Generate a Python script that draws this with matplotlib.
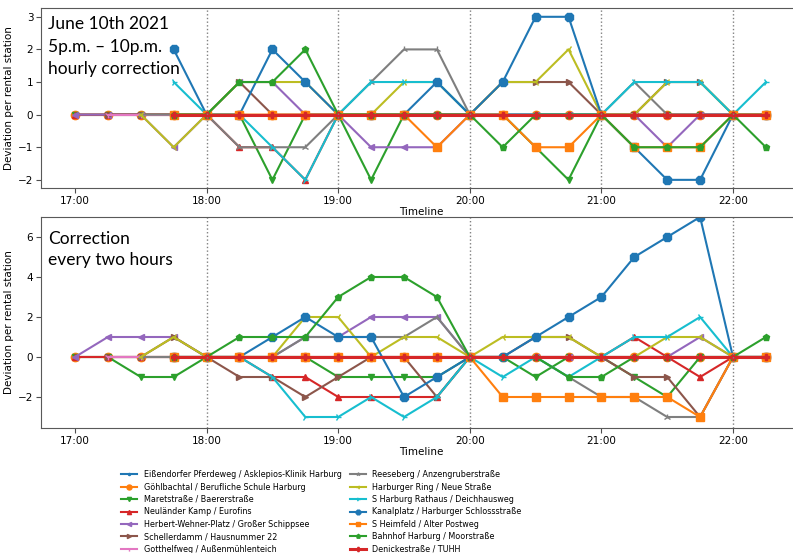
import matplotlib
matplotlib.use("Agg")
import matplotlib.dates as mdates
import matplotlib.pyplot as plt
import numpy as np
import pandas as pd

nan = np.nan

# 15-minute steps, 17:00 .. 22:15
times = pd.date_range("2021-06-10 17:00", "2021-06-10 22:15", freq="15min")

stations = [
    "Eißendorfer Pferdeweg / Asklepios-Klinik Harburg",
    "Göhlbachtal / Berufliche Schule Harburg",
    "Maretstraße / Baererstraße",
    "Neuländer Kamp / Eurofins",
    "Herbert-Wehner-Platz / Großer Schippsee",
    "Schellerdamm / Hausnummer 22",
    "Gotthelfweg / Außenmühlenteich",
    "Reeseberg / Anzengruberstraße",
    "Harburger Ring / Neue Straße",
    "S Harburg Rathaus / Deichhausweg",
    "Kanalplatz / Harburger Schlossstraße",
    "S Heimfeld / Alter Postweg",
    "Bahnhof Harburg / Moorstraße",
    "Denickestraße / TUHH",
]
markers = [".", "o", "v", "^", "<", ">", "1", "2", "3", "4", "8", "s", "p", "P"]

# --- hourly correction ---
eissendorfer_h = [0, 0, 0, 0, 0, 0, 0, 0, 0, 0, 0, 0, 0, 0, 0, 0, 0, 0, 0, 0, 0, 0]
goehlbachtal_h = [0, 0, 0, 0, 0, 0, 0, 0, 0, 0, 0, 0, 0, 0, 0, 0, 0, 0, 0, 0, 0, 0]
maret_h = [0, 0, 0, 0, 0, 0, -2, 0, 0, -2, 0, 0, 0, 0, -1, -2, 0, 0, 0, 0, 0, 0]
neulaender_h = [0, 0, 0, 0, 0, -1, -1, -2, 0, 0, 0, 0, 0, 0, 0, 0, 0, 0, 0, 0, 0, 0]
herbert_h = [0, 0, 0, -1, 0, 1, 1, 0, 0, -1, -1, -1, 0, 0, 0, 0, 0, 0, -1, 0, 0, 0]
schellerdamm_h = [nan, 0, 0, 0, 0, 1, 0, 0, 0, 0, 0, 0, 0, 1, 1, 1, 0, 0, 1, 1, 0, 0]
gotthelf_h = [nan, 0, 0, 0, 0, 0, 0, 0, 0, 0, 0, 0, 0, 0, 0, 0, 0, 0, 0, 0, 0, 0]
reeseberg_h = [nan, nan, 0, 0, 0, -1, -1, -1, 0, 1, 2, 2, 0, 0, 0, 0, 0, 1, 0, 0, 0, 0]
harburger_ring_h = [nan, nan, 0, -1, 0, 1, 1, 1, 0, 0, 1, 1, 0, 1, 1, 2, 0, 0, 1, 1, 0, 0]
rathaus_h = [nan, nan, nan, 1, 0, 0, -1, -2, 0, 1, 1, 1, 0, 0, 0, 0, 0, 1, 1, 1, 0, 1]
kanalplatz_h = [nan, nan, nan, 2, 0, 0, 2, 1, 0, 0, 0, 1, 0, 1, 3, 3, 0, -1, -2, -2, 0, 0]
heimfeld_h = [nan, nan, nan, 0, 0, 0, 0, 0, 0, 0, 0, -1, 0, 0, -1, -1, 0, -1, -1, -1, 0, 0]
bahnhof_h = [nan, nan, nan, 0, 0, 1, 1, 2, 0, 0, 0, 0, 0, -1, 0, 0, 0, -1, -1, -1, 0, -1]
denicke_h = [nan, nan, nan, 0, 0, 0, 0, 0, 0, 0, 0, 0, 0, 0, 0, 0, 0, 0, 0, 0, 0, 0]

# --- correction every two hours ---
eissendorfer_2 = [0, 0, 0, 0, 0, 0, 0, 0, 0, 0, 0, 0, 0, 0, 0, 0, 0, 0, 0, 0, 0, 0]
goehlbachtal_2 = [0, 0, 0, 0, 0, 0, 0, 0, 0, 0, 0, 0, 0, 0, 0, 0, 0, 0, 0, 0, 0, 0]
maret_2 = [0, 0, -1, -1, 0, 0, 0, 0, -1, -1, -1, -1, 0, 0, -1, 0, 0, -1, -2, 0, 0, 0]
neulaender_2 = [0, 0, 0, 0, 0, 0, -1, -1, -2, -2, -2, -2, 0, 0, 0, 0, 0, 1, 0, -1, 0, 0]
herbert_2 = [0, 1, 1, 1, 0, 0, 0, 1, 1, 2, 2, 2, 0, 0, 0, 0, 0, 0, 0, 1, 0, 0]
schellerdamm_2 = [nan, 0, 0, 1, 0, -1, -1, -2, -1, 0, 0, -2, 0, 0, 1, 1, 0, -1, -1, -3, 0, 0]
gotthelf_2 = [nan, 0, 0, 0, 0, 0, 0, 0, 0, 0, 0, 0, 0, 0, 0, 0, 0, 0, 0, 0, 0, 0]
reeseberg_2 = [nan, nan, 0, 0, 0, 0, 0, 1, 1, 1, 1, 2, 0, 0, 0, -1, -2, -2, -3, -3, 0, 0]
harburger_ring_2 = [nan, nan, 0, 1, 0, 0, 0, 2, 2, 0, 1, 1, 0, 1, 1, 1, 0, 0, 1, 1, 0, 0]
rathaus_2 = [nan, nan, nan, 0, 0, 0, -1, -3, -3, -2, -3, -2, 0, -1, 0, -1, 0, 1, 1, 2, 0, 0]
kanalplatz_2 = [nan, nan, nan, 0, 0, 0, 1, 2, 1, 1, -2, -1, 0, 0, 1, 2, 3, 5, 6, 7, 0, 0]
heimfeld_2 = [nan, nan, nan, 0, 0, 0, 0, 0, 0, 0, 0, 0, 0, -2, -2, -2, -2, -2, -2, -3, 0, 0]
bahnhof_2 = [nan, nan, nan, 0, 0, 1, 1, 1, 3, 4, 4, 3, 0, 0, 0, -1, -1, 0, 0, 0, 0, 1]
denicke_2 = [nan, nan, nan, 0, 0, 0, 0, 0, 0, 0, 0, 0, 0, 0, 0, 0, 0, 0, 0, 0, 0, 0]

hourly = [eissendorfer_h, goehlbachtal_h, maret_h, neulaender_h, herbert_h,
          schellerdamm_h, gotthelf_h, reeseberg_h, harburger_ring_h, rathaus_h,
          kanalplatz_h, heimfeld_h, bahnhof_h, denicke_h]
two_hourly = [eissendorfer_2, goehlbachtal_2, maret_2, neulaender_2, herbert_2,
              schellerdamm_2, gotthelf_2, reeseberg_2, harburger_ring_2, rathaus_2,
              kanalplatz_2, heimfeld_2, bahnhof_2, denicke_2]

colors = plt.rcParams["axes.prop_cycle"].by_key()["color"]

W, H = 793, 553
fig = plt.figure(figsize=(W / 100, H / 100), dpi=100)


def px_axes(left, top, right, bottom):
    return fig.add_axes([left / W, 1 - bottom / H, (right - left) / W, (bottom - top) / H])


ax1 = px_axes(41, 8, 801, 188)
ax2 = px_axes(41, 217, 801, 428)


def draw(ax, series, corrections):
    for i, (name, vals) in enumerate(zip(stations, series)):
        ms = 6 if markers[i] in ("o", "8", "s") else 5
        lw = 2.2 if i == len(stations) - 1 else 1.5
        ax.plot(times, vals, marker=markers[i], color=colors[i % 10],
                label=name, linewidth=lw, markersize=ms)
    for t in corrections:
        ax.axvline(pd.Timestamp(t), color="gray", linestyle=":", linewidth=1)
    ax.set_xlim(pd.Timestamp("2021-06-10 16:44:30"), pd.Timestamp("2021-06-10 22:31:00"))
    ax.xaxis.set_major_locator(mdates.HourLocator())
    ax.xaxis.set_major_formatter(mdates.DateFormatter("%H:%M"))
    ax.set_xlabel("Timeline", fontsize=7.5, labelpad=1)
    ax.set_ylabel("Deviation per rental station", fontsize=7.5)
    ax.yaxis.set_label_coords(-0.036, 0.5)
    ax.tick_params(labelsize=7.5, length=3.5, pad=2, color="0.3")
    for s in ax.spines.values():
        s.set_color("0.35")


draw(ax1, hourly, ["2021-06-10 18:00", "2021-06-10 19:00", "2021-06-10 20:00",
                   "2021-06-10 21:00", "2021-06-10 22:00"])
ax1.set_ylim(-2.25, 3.27)
ax1.set_yticks([-2, -1, 0, 1, 2, 3])
ax1.text(0.009, 0.955, "June 10th 2021\n5p.m. – 10p.m.\nhourly correction",
         transform=ax1.transAxes, ha="left", va="top", fontsize=12.5,
         family="Lato", linespacing=1.5)

draw(ax2, two_hourly, ["2021-06-10 18:00", "2021-06-10 20:00", "2021-06-10 22:00"])
ax2.set_ylim(-3.55, 7.0)
ax2.set_yticks([-2, 0, 2, 4, 6])
ax2.text(0.009, 0.935, "Correction\nevery two hours",
         transform=ax2.transAxes, ha="left", va="top", fontsize=12.5,
         family="Lato", linespacing=1.4)

handles, labels = ax2.get_legend_handles_labels()
fig.legend(handles, labels, loc="upper left", bbox_to_anchor=(118 / W, 1 - 467 / H),
           ncol=2, fontsize=5.8, frameon=False, handlelength=2.0, markerscale=0.6,
           labelspacing=0.42, columnspacing=1.0, borderaxespad=0)

fig.savefig("out.png", dpi=100)
